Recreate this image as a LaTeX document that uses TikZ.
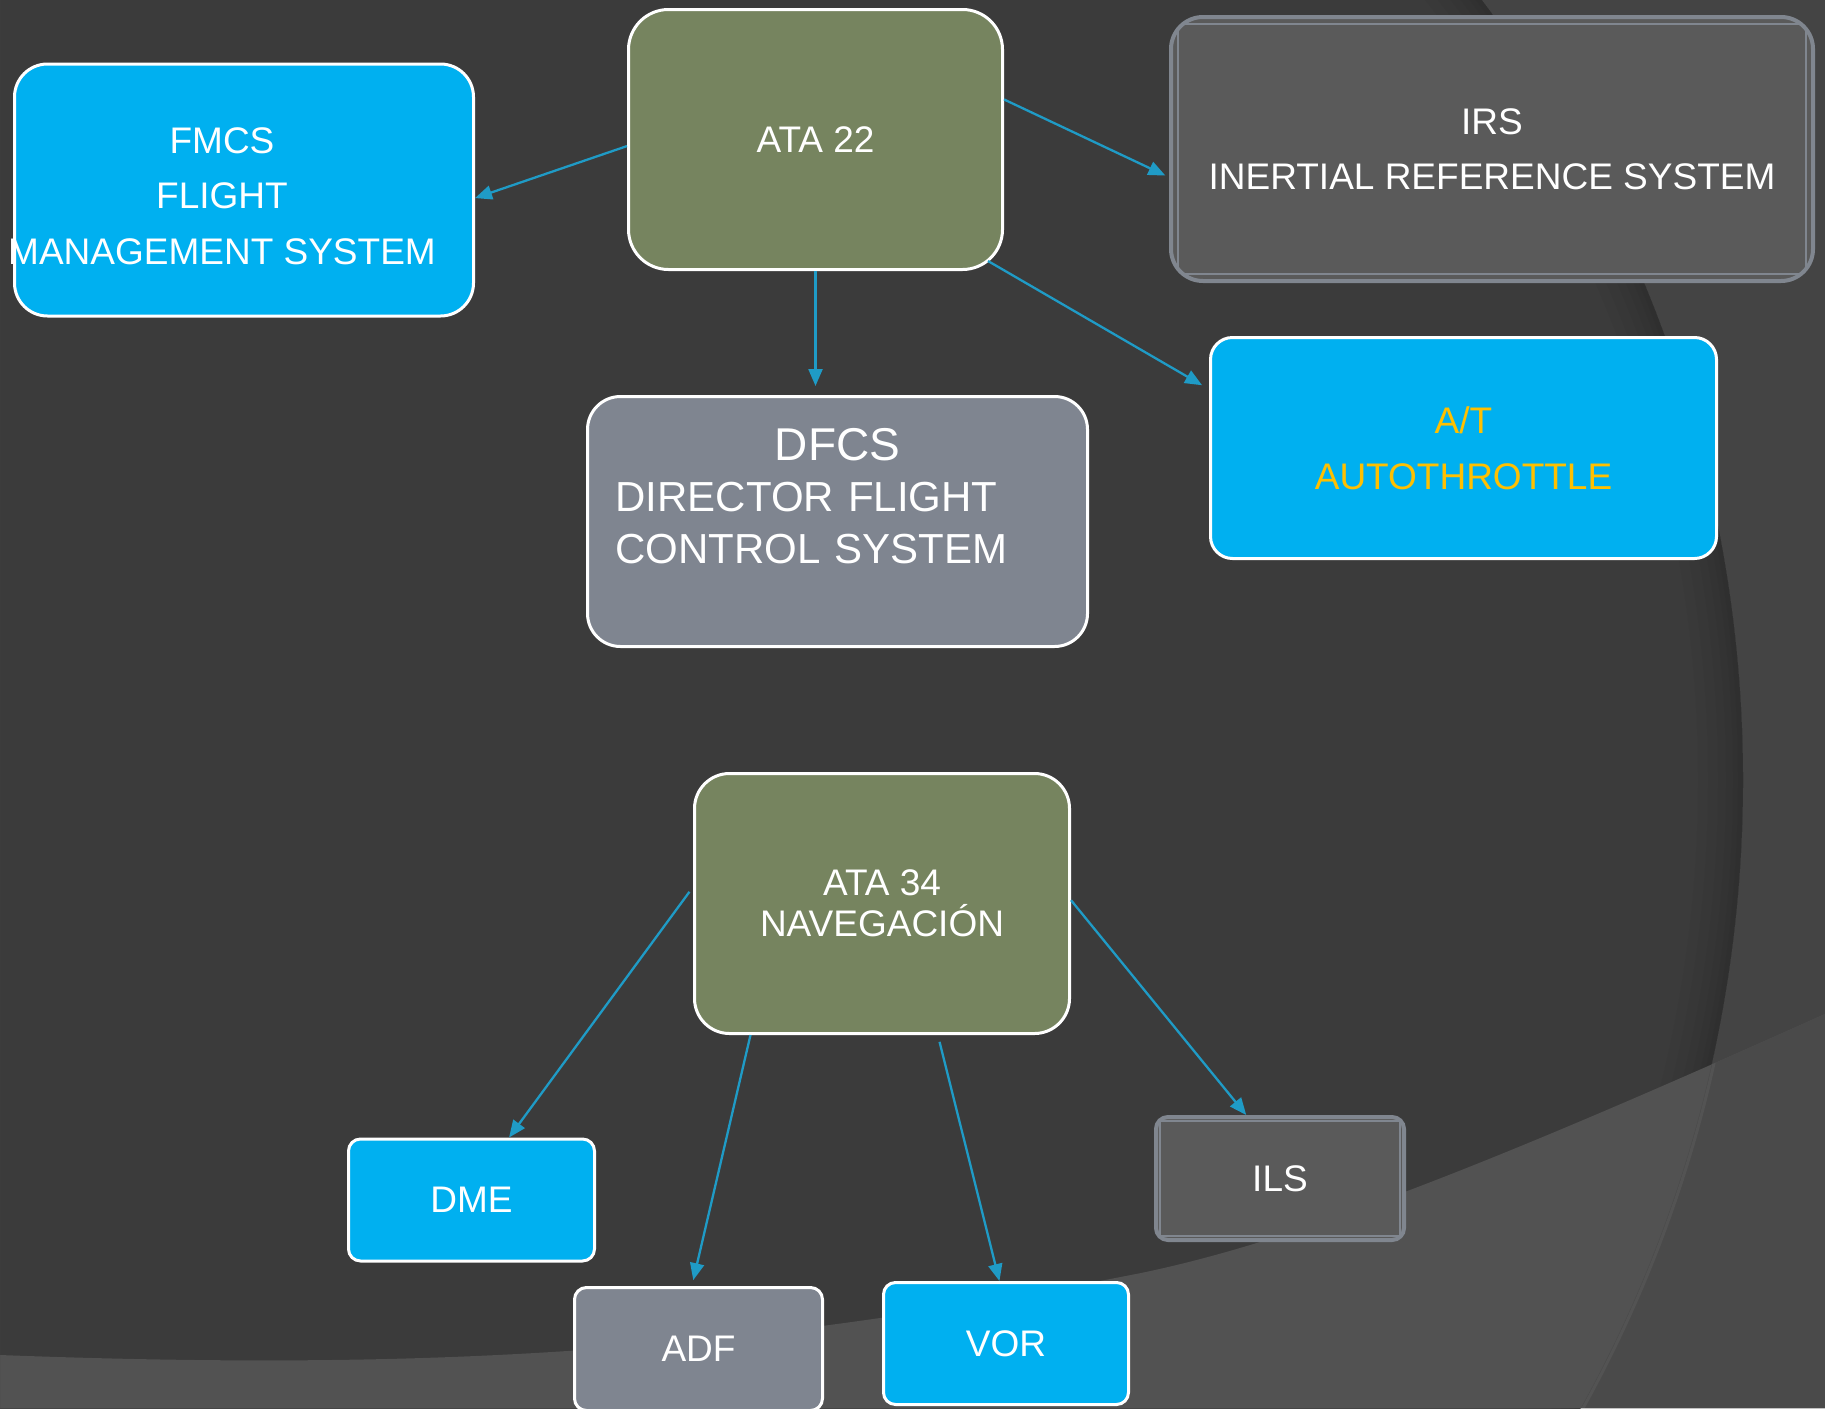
\documentclass[tikz,border=0pt]{standalone}
\usepackage{fontspec}
\setmainfont{Liberation Sans}
\usetikzlibrary{arrows.meta,calc}
\definecolor{bgdark}{HTML}{3B3B3B}
\definecolor{bgright}{HTML}{444444}
\definecolor{bgband}{HTML}{525252}
\definecolor{bgbandr}{HTML}{4A4A4A}
\definecolor{cyanbox}{HTML}{00B0F0}
\definecolor{olivebox}{HTML}{76845F}
\definecolor{graybox}{HTML}{7F8590}
\definecolor{darkbox}{HTML}{5A5A5A}
\definecolor{bevel}{HTML}{80868F}
\definecolor{arrowblue}{HTML}{1F9BC6}
\definecolor{goldtext}{HTML}{FFC000}
\tikzset{
  box/.style={rectangle, draw=white, line width=3pt, text=white, align=center,
    inner sep=0pt, font=\fontsize{37}{55.5}\selectfont},
  cyanbox/.style={box, fill=cyanbox},
  olivebox/.style={box, fill=olivebox},
  graybox/.style={box, fill=graybox},
  bevelbox/.style={box, fill=darkbox, draw=bevel, line width=4pt,
    path picture={\draw[bevel, line width=1.5pt, sharp corners]
      ([shift={(#1,-#1)}]path picture bounding box.north west) rectangle
      ([shift={(-#1,#1)}]path picture bounding box.south east);}},
  boxtext/.style={text=white, align=center, inner sep=0pt, font=\fontsize{37}{55.5}\selectfont},
  arr/.style={draw=arrowblue, line width=2.3pt, -{Triangle[length=17pt,width=14pt]}},
}
\begin{document}
\begin{tikzpicture}[x=1pt,y=-1pt]
\useasboundingbox (0,0) rectangle (1825,1408);
\clip (0,0) rectangle (1825,1408);
% background
\fill[bgdark] (0,0) rectangle (1825,1408);
\fill[bgright, even odd rule] (0,0) rectangle (1825,1408) (448,780) circle[radius=1295pt];
\begin{scope}
  \clip (448,780) circle[radius=1295pt];
  \foreach \w in {90,70,50,34,20,10}
    \draw[black, opacity=0.022, line width=\w pt] (448,780) circle[radius=1295pt];
\end{scope}
\fill[bgband] (0,1355) .. controls (450,1372) and (750,1350) .. (1141,1273)
  .. controls (1300,1240) and (1500,1160) .. (1825,1014) -- (1825,1408) -- (0,1408) -- cycle;
\begin{scope}
  \clip (0,1355) .. controls (450,1372) and (750,1350) .. (1141,1273)
  .. controls (1300,1240) and (1500,1160) .. (1825,1014) -- (1825,1408) -- (0,1408) -- cycle;
  \fill[bgbandr, even odd rule] (0,0) rectangle (1825,1408) (448,780) circle[radius=1295pt];
  \draw[white, opacity=0.05, line width=3pt] (448,780) circle[radius=1297pt];
\end{scope}

% boxes
\node[cyanbox, rounded corners=33pt, minimum width=459pt, minimum height=252pt] (fmcs) at (244,190) {};
\node[boxtext] (fmcstext) at (222,196) {FMCS\\FLIGHT\\MANAGEMENT SYSTEM};
\node[olivebox, rounded corners=40pt, minimum width=374pt, minimum height=260pt] (ata22) at (815.5,139.5) {ATA 22};
\node[bevelbox=7pt, rounded corners=32pt, minimum width=642pt, minimum height=264pt, font=\fontsize{37}{55}\selectfont] (irs) at (1492,149)
  {IRS\\INERTIAL REFERENCE SYSTEM};
\node[graybox, rounded corners=33pt, minimum width=500pt, minimum height=250pt, text width=444pt, align=left,
  font=\fontsize{42}{51.5}\selectfont] (dfcs) at (837.5,521.5)
  {\noindent\makebox[\hsize][c]{\fontsize{46}{51.5}\selectfont DFCS}\\DIRECTOR FLIGHT\\CONTROL SYSTEM\\\mbox{}};
\node[cyanbox, rounded corners=22pt, minimum width=506pt, minimum height=221pt, text=goldtext,
  font=\fontsize{37}{56}\selectfont] (at) at (1463.5,448) {A/T\\AUTOTHROTTLE};
\node[olivebox, rounded corners=35pt, minimum width=375pt, minimum height=260pt,
  font=\fontsize{37}{41}\selectfont] (ata34) at (882,903.5) {ATA 34\\NAVEGACIÓN};
\node[cyanbox, rounded corners=12pt, minimum width=246pt, minimum height=122pt] (dme) at (471.5,1200) {DME};
\node[graybox, rounded corners=12pt, minimum width=248pt, minimum height=123pt] (adf) at (698.5,1349) {ADF};
\node[cyanbox, rounded corners=12pt, minimum width=245pt, minimum height=122pt] (vor) at (1006,1343.5) {VOR};
\node[bevelbox=4pt, rounded corners=12pt, minimum width=248pt, minimum height=123pt] (ils) at (1280,1178.5) {ILS};

% connectors
\draw[arr] (ata22.182.6) -- (fmcs.-2);
\draw[arr, shorten >=4pt] (ata22.12) -- (irs.185);
\draw[arr, shorten >=8pt] ([shift={(-16pt,10pt)}]ata22.south east) -- (at.167);
\draw[arr, shorten >=9pt] (ata22.south) -- (ata22.south |- dfcs.north);
\draw[arr, shorten <=6pt] (ata34.175) -- (dme.59);
\draw[arr, shorten >=6pt] (ata34.225.6) -- (adf.96.3);
\draw[arr, shorten <=7pt] (ata34.-67.3) -- (vor.96.3);
\draw[arr] (ata34.1.7) -- (ils.118);
\end{tikzpicture}
\end{document}
